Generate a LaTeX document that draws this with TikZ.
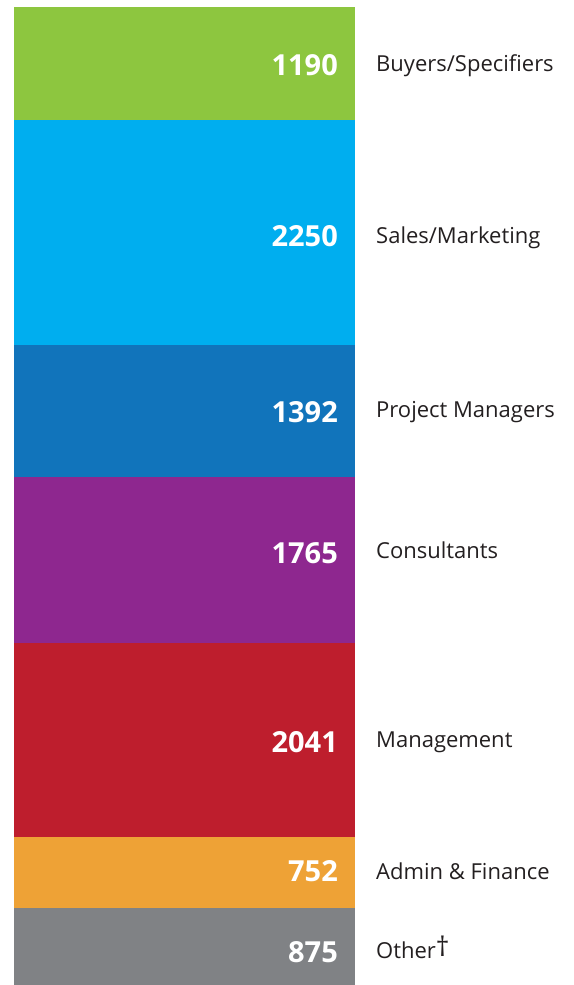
\documentclass[tikz,border=0pt]{standalone}
\usepackage{fontspec}
\setmainfont{Open Sans}

\definecolor{buyersgreen}{HTML}{8DC63F}
\definecolor{salescyan}{HTML}{00AEEF}
\definecolor{projectblue}{HTML}{1174BB}
\definecolor{consultpurple}{HTML}{8E278F}
\definecolor{mgmtred}{HTML}{BE1E2D}
\definecolor{adminorange}{HTML}{EEA236}
\definecolor{othergray}{HTML}{808285}
\definecolor{labelgray}{HTML}{231F20}

\begin{document}
\begin{tikzpicture}[x=1pt, y=-1pt,
    num/.style={anchor=base east, inner sep=0pt, text=white,
      font=\fontsize{29}{29}\selectfont\bfseries},
    lbl/.style={anchor=base west, inner sep=0pt, text=labelgray,
      font=\fontsize{22}{22}\selectfont}]
  \useasboundingbox (0,0) rectangle (573,985);

  % Stacked bar
  \fill[buyersgreen]   (14,7)   rectangle (355,120);
  \fill[salescyan]     (14,120) rectangle (355,345);
  \fill[projectblue]   (14,345) rectangle (355,477);
  \fill[consultpurple] (14,477) rectangle (355,643);
  \fill[mgmtred]       (14,643) rectangle (355,837);
  \fill[adminorange]   (14,837) rectangle (355,908);
  \fill[othergray]     (14,908) rectangle (355,985);

  % Values inside the bar
  \node[num] (buyersval)  at (338,75)  {1190};
  \node[num] (salesval)   at (338,246) {2250};
  \node[num] (projectval) at (338,422) {1392};
  \node[num] (consultval) at (338,563) {1765};
  \node[num] (mgmtval)    at (338,752) {2041};
  \node[num] (adminval)   at (338,881) {752};
  \node[num] (otherval)   at (338,962) {875};

  % Category names
  \node[lbl] (buyers)  at (376,71)  {Buyers/Specifiers};
  \node[lbl] (sales)   at (376,243) {Sales/Marketing};
  \node[lbl] (project) at (376,417) {Project Managers};
  \node[lbl] (consult) at (376,558) {Consultants};
  \node[lbl] (mgmt)    at (376,747) {Management};
  \node[lbl] (admin)   at (376,879) {Admin \& Finance};
  \node[lbl] (other)   at (376,958)
    {Other\raisebox{2pt}{\fontsize{27}{27}\selectfont †}};
\end{tikzpicture}
\end{document}
